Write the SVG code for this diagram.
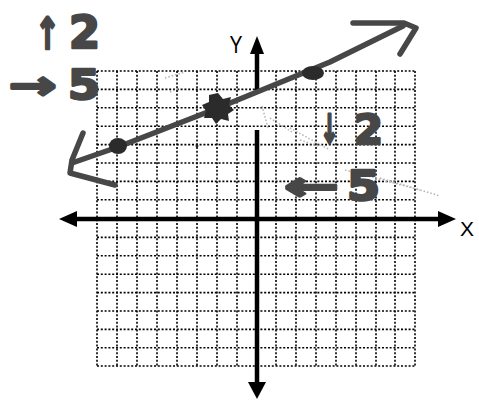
<svg xmlns="http://www.w3.org/2000/svg" width="479" height="400" viewBox="0 0 479 400">
  <style>
    .grid line { stroke: #000; stroke-width: 1.6; stroke-dasharray: 2 1.8; }
    .axis { stroke: #000; stroke-width: 4.5; fill: none; }
    .head { fill: #000; }
    .hand { stroke: #474747; stroke-width: 5.5; fill: none; stroke-linecap: round; stroke-linejoin: round; }
    .handtxt { font-family: "DejaVu Sans", "Liberation Sans", sans-serif; font-weight: bold; fill: #474747; stroke: #474747; stroke-width: 2.5; stroke-linejoin: round; }
    .lbl { font-family: "Liberation Sans", Arial, sans-serif; fill: #000; }
    .smudge { stroke: #b5b5b5; stroke-width: 1.5; stroke-dasharray: 1.5 2; fill: none; }
    .dot { fill: #2b2b2b; }
  </style>
  <rect width="479" height="400" fill="#fff"/>

  <g id="grid" class="grid">
    <line x1="97" y1="71" x2="97" y2="366"/>
    <line x1="117" y1="71" x2="117" y2="366"/>
    <line x1="137" y1="71" x2="137" y2="366"/>
    <line x1="157" y1="71" x2="157" y2="366"/>
    <line x1="177" y1="71" x2="177" y2="366"/>
    <line x1="197" y1="71" x2="197" y2="366"/>
    <line x1="217" y1="71" x2="217" y2="366"/>
    <line x1="237" y1="71" x2="237" y2="366"/>
    <line x1="276" y1="71" x2="276" y2="366"/>
    <line x1="296" y1="71" x2="296" y2="366"/>
    <line x1="316" y1="71" x2="316" y2="366"/>
    <line x1="336" y1="71" x2="336" y2="366"/>
    <line x1="356" y1="71" x2="356" y2="366"/>
    <line x1="376" y1="71" x2="376" y2="366"/>
    <line x1="395" y1="71" x2="395" y2="366"/>
    <line x1="415" y1="71" x2="415" y2="366"/>
    <line x1="97" y1="71" x2="415" y2="71"/>
    <line x1="97" y1="89.4" x2="415" y2="89.4"/>
    <line x1="97" y1="107.8" x2="415" y2="107.8"/>
    <line x1="97" y1="126.2" x2="415" y2="126.2"/>
    <line x1="97" y1="144.6" x2="415" y2="144.6"/>
    <line x1="97" y1="163" x2="415" y2="163"/>
    <line x1="97" y1="181.4" x2="415" y2="181.4"/>
    <line x1="97" y1="199.8" x2="415" y2="199.8"/>
    <line x1="97" y1="237.4" x2="415" y2="237.4"/>
    <line x1="97" y1="255.8" x2="415" y2="255.8"/>
    <line x1="97" y1="274.2" x2="415" y2="274.2"/>
    <line x1="97" y1="292.6" x2="415" y2="292.6"/>
    <line x1="97" y1="311" x2="415" y2="311"/>
    <line x1="97" y1="329.4" x2="415" y2="329.4"/>
    <line x1="97" y1="347.8" x2="415" y2="347.8"/>
    <line x1="97" y1="366" x2="415" y2="366"/>
  </g>

  <g id="smudges">
    <path class="smudge" d="M165 78 L185 72 M170 92 L180 88 M262 106 L268 128 M270 118 L292 132 M290 128 L330 150 M300 140 L318 146 M345 170 L420 190 M380 178 L440 196"/>
  </g>

  <g id="x-axis">
    <line class="axis" x1="74" y1="219" x2="441" y2="219"/>
    <polygon class="head" points="59,219 77,211 77,227"/>
    <polygon class="head" points="456,219 438,211 438,227"/>
    <text class="lbl" x="467" y="236" font-size="21" text-anchor="middle">X</text>
  </g>

  <g id="y-axis">
    <line class="axis" x1="257" y1="52" x2="257" y2="94"/>
    <line class="axis" x1="257" y1="130" x2="257" y2="384"/>
    <polygon class="head" points="257,36 250,54 264,54"/>
    <polygon class="head" points="257,399 248,382 266,382"/>
    <text class="lbl" x="236" y="53" font-size="24" text-anchor="middle" textLength="13" lengthAdjust="spacingAndGlyphs">Y</text>
  </g>

  <g id="line">
    <polyline class="hand" points="72,163 118,147 218,108 330,62 403,26"/>
    <polyline class="hand" points="83,133 72,160 70,173 115,185"/>
    <polyline class="hand" points="353,23 404,23 416,28 400,54"/>
  </g>

  <g id="points">
    <ellipse class="dot" cx="118" cy="146" rx="9" ry="8"/>
    <polygon class="dot" points="218,93 223,99 231,97 229,105 234,110 228,114 229,121 221,119 216,124 212,118 204,118 206,111 202,105 209,102 209,95"/>
    <ellipse class="dot" cx="313" cy="73" rx="11" ry="7"/>
    <circle class="dot" cx="197" cy="146" r="1.5"/>
  </g>

  <g id="annotations">
    <text class="handtxt" font-size="44"><tspan x="35" y="49" textLength="25" lengthAdjust="spacingAndGlyphs">↑</tspan><tspan x="69" y="48" textLength="31" lengthAdjust="spacingAndGlyphs">2</tspan></text>
    <text class="handtxt" font-size="40"><tspan x="9" y="99" textLength="48" lengthAdjust="spacingAndGlyphs">→</tspan><tspan x="68" y="99" textLength="32" lengthAdjust="spacingAndGlyphs">5</tspan></text>
    <text class="handtxt" font-size="40"><tspan x="320" y="143" textLength="19" lengthAdjust="spacingAndGlyphs">↓</tspan><tspan x="354" y="144" textLength="29" lengthAdjust="spacingAndGlyphs">2</tspan></text>
    <text class="handtxt" font-size="40"><tspan x="284" y="200" textLength="55" lengthAdjust="spacingAndGlyphs">←</tspan><tspan x="347" y="200" textLength="33" lengthAdjust="spacingAndGlyphs">5</tspan></text>
  </g>
</svg>
